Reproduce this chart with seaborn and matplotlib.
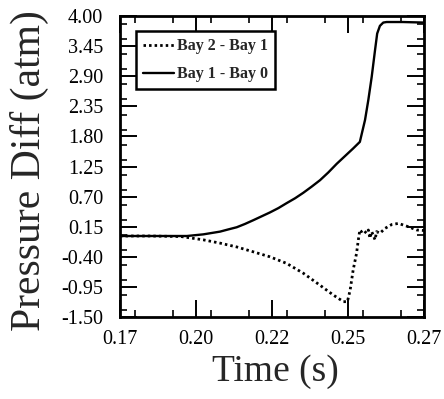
import matplotlib
matplotlib.use("Agg")
import matplotlib.pyplot as plt
from matplotlib.ticker import FixedLocator, MultipleLocator
import seaborn as sns
import pandas as pd

# Pressure difference across the bays versus time
t_bay10 = [0.170, 0.180, 0.192, 0.1974, 0.2029, 0.2056, 0.2084, 0.2111, 0.2139,
           0.2166, 0.2193, 0.2221, 0.2248, 0.2276, 0.2303, 0.2330, 0.2358,
           0.2385, 0.2413, 0.2440, 0.2467, 0.2489, 0.2506, 0.2517, 0.2528,
           0.2539, 0.2546, 0.2555, 0.2566, 0.2577, 0.2630, 0.2700]
p_bay10 = [-0.02, -0.02, -0.02, 0.01, 0.06, 0.10, 0.14, 0.20, 0.27,
           0.34, 0.41, 0.49, 0.58, 0.67, 0.77, 0.88, 1.00,
           1.14, 1.30, 1.44, 1.58, 1.70, 2.10, 2.47, 2.89,
           3.38, 3.68, 3.82, 3.88, 3.89, 3.89, 3.88]

t_bay21 = [0.170, 0.180, 0.1901, 0.1974, 0.2029, 0.2084, 0.2139, 0.2193, 0.2248,
           0.2303, 0.2358, 0.2402, 0.2435, 0.2448, 0.2457, 0.2467, 0.2478,
           0.2484, 0.2489, 0.2494, 0.2500, 0.2511, 0.2517, 0.2522, 0.2528,
           0.2539, 0.2544, 0.2555, 0.2572, 0.2594, 0.2616, 0.2643, 0.2676,
           0.2700]
p_bay21 = [-0.02, -0.02, -0.03, -0.09, -0.15, -0.22, -0.31, -0.40, -0.52,
           -0.70, -0.92, -1.10, -1.22, -1.22, -1.01, -0.64, -0.34,
           -0.09, 0.09, 0.06, 0.09, 0.03, 0.09, -0.06, 0.06,
           -0.09, 0.06, 0.03, 0.12, 0.19, 0.21, 0.16, 0.09,
           0.08]

series_labels = ["Bay 2 - Bay 1", "Bay 1 - Bay 0"]

xticks = [0.17, 0.195, 0.22, 0.245, 0.27]
xtick_labels = ["0.17", "0.20", "0.22", "0.25", "0.27"]
yticks = [-1.50, -0.95, -0.40, 0.15, 0.70, 1.25, 1.80, 2.35, 2.90, 3.45, 4.00]
ytick_labels = [f"{v:.2f}" for v in yticks]

df21 = pd.DataFrame({"Time": t_bay21, "Pressure": p_bay21})
df10 = pd.DataFrame({"Time": t_bay10, "Pressure": p_bay10})

sns.set_style("ticks")
plt.rcParams["font.family"] = ["Liberation Serif", "DejaVu Serif"]

fig = plt.figure(figsize=(4.44, 3.99), dpi=100)
ax = fig.add_axes([120 / 444, 1 - 317 / 399, 304 / 444, 301 / 399])

sns.lineplot(data=df21, x="Time", y="Pressure", ax=ax, color="black",
             linewidth=2.0, linestyle=(0, (0.9, 1.1)), label=series_labels[0],
             estimator=None, sort=False)
sns.lineplot(data=df10, x="Time", y="Pressure", ax=ax, color="black",
             linewidth=1.7, linestyle="-", label=series_labels[1],
             estimator=None, sort=False)

ax.set_xlim(0.17, 0.27)
ax.set_ylim(-1.5, 4.0)
ax.xaxis.set_major_locator(FixedLocator(xticks))
ax.set_xticklabels(xtick_labels)
ax.xaxis.set_minor_locator(MultipleLocator(0.0125))
ax.yaxis.set_major_locator(FixedLocator(yticks))
ax.set_yticklabels(ytick_labels)
ax.yaxis.set_minor_locator(MultipleLocator(0.275))

ax.tick_params(which="both", direction="in", top=True, right=True,
               colors="black")
ax.tick_params(which="major", length=12, width=1.4)
ax.tick_params(which="minor", length=5, width=1.2)
ax.tick_params(axis="y", which="major", pad=12, labelsize=14.5)
ax.tick_params(axis="x", which="major", pad=9, labelsize=14.5)

for side in ax.spines.values():
    side.set_linewidth(2.0)
    side.set_color("black")

ax.set_xlabel("Time (s)", fontsize=27)
ax.set_ylabel("Pressure Diff (atm)", fontsize=30)
ax.xaxis.set_label_coords(0.51, -0.125)
ax.yaxis.set_label_coords(-0.232, 0.488)

leg = ax.legend(loc="upper left", bbox_to_anchor=(16 / 304, (317 - 31) / 301),
                borderaxespad=0, frameon=True, fancybox=False, shadow=False,
                prop={"size": 11.5, "weight": "bold"}, handlelength=1.9,
                handletextpad=0.2, labelspacing=0.75, borderpad=0.45)
leg.get_frame().set_edgecolor("black")
leg.get_frame().set_linewidth(1.8)
leg.get_frame().set_alpha(1)

fig.savefig("out.png", dpi=100, facecolor="white")
